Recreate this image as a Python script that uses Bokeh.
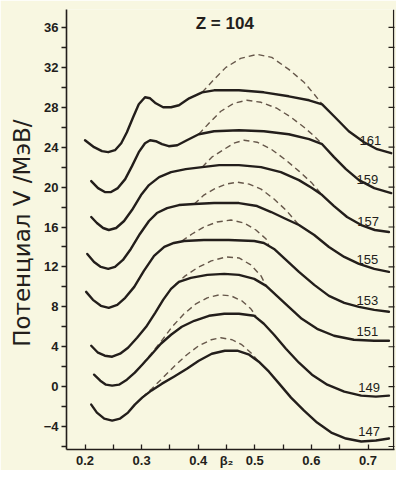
from bokeh.plotting import figure
from bokeh.models import Range1d, FixedTicker, Label, Span, CustomJSTickFormatter
from bokeh.embed import file_html
from bokeh.resources import INLINE

# ---- data (beta2, potential V in MeV) ----
title_text = "Z = 104"
y_title = "Потенциал V  /МэВ/"
x_title = "β₂"

x_ticks = [0.2, 0.3, 0.4, 0.5, 0.6, 0.7]
x_minor = [0.25, 0.35, 0.55, 0.65, 0.75]
x_title_at = 0.45
y_ticks = [-4, 0, 4, 8, 12, 16, 20, 24, 28, 32, 36]
y_minor = [-6, -2, 2, 6, 10, 14, 18, 22, 26, 30, 34]

labels = ["161", "159", "157", "155", "153", "151", "149", "147"]

s161_b = [0.200,0.216,0.230,0.241,0.253,0.264,0.274,0.285,0.295,0.306,0.315,0.325,0.338,0.352,0.366,0.384,0.407,0.428,0.472,0.516,0.560,0.596,0.619,0.640,0.666,0.693,0.716,0.741]
s161_v = [24.7,24.0,23.6,23.5,23.7,24.4,25.5,27.0,28.3,29.0,28.9,28.4,28.0,28.0,28.2,28.9,29.5,29.7,29.7,29.5,29.1,28.7,28.3,27.1,25.6,24.5,23.8,23.4]
d161_b = [0.407,0.428,0.449,0.475,0.504,0.530,0.560,0.587,0.605,0.619]
d161_v = [29.5,30.8,32.0,32.9,33.3,33.0,31.8,30.5,29.3,28.3]

s159_b = [0.211,0.223,0.235,0.246,0.258,0.271,0.283,0.295,0.306,0.315,0.325,0.336,0.348,0.363,0.380,0.401,0.428,0.472,0.516,0.560,0.596,0.619,0.640,0.661,0.684,0.711,0.741]
s159_v = [20.6,19.9,19.5,19.5,19.9,20.8,22.1,23.5,24.4,24.7,24.6,24.3,24.1,24.2,24.7,25.3,25.6,25.7,25.6,25.3,24.8,24.3,23.0,21.8,20.7,19.9,19.4]
d159_b = [0.401,0.419,0.440,0.463,0.486,0.511,0.539,0.564,0.587,0.605,0.619]
d159_v = [25.3,26.4,27.6,28.4,28.7,28.5,27.9,27.0,26.0,25.1,24.3]

s157_b = [0.211,0.221,0.232,0.242,0.255,0.269,0.283,0.299,0.313,0.331,0.352,0.378,0.407,0.437,0.472,0.511,0.546,0.578,0.601,0.619,0.640,0.663,0.688,0.712,0.737]
s157_v = [17.0,16.4,15.9,15.7,15.9,16.6,17.7,19.2,20.2,21.0,21.5,21.8,22.0,22.2,22.2,22.0,21.5,20.7,19.9,19.2,18.1,17.0,16.2,15.7,15.5]
d157_b = [0.407,0.424,0.446,0.463,0.481,0.504,0.529,0.555,0.578,0.601,0.619]
d157_v = [22.0,23.0,23.8,24.4,24.7,24.5,23.8,22.7,21.6,20.4,19.2]

s155_b = [0.204,0.216,0.228,0.241,0.253,0.267,0.281,0.297,0.313,0.327,0.345,0.366,0.393,0.428,0.472,0.504,0.529,0.555,0.578,0.605,0.631,0.658,0.684,0.711,0.737]
s155_v = [13.3,12.5,12.0,11.8,12.0,12.7,13.8,15.3,16.6,17.4,17.9,18.2,18.3,18.4,18.4,18.1,17.5,16.8,16.2,15.2,14.0,13.0,12.3,11.8,11.5]
d155_b = [0.393,0.410,0.428,0.449,0.469,0.490,0.511,0.534,0.555,0.578]
d155_v = [18.3,19.2,19.8,20.3,20.5,20.3,19.8,18.8,17.7,16.2]

s153_b = [0.202,0.214,0.228,0.242,0.257,0.271,0.287,0.304,0.322,0.340,0.357,0.375,0.410,0.454,0.499,0.516,0.534,0.557,0.578,0.605,0.631,0.658,0.684,0.711,0.737]
s153_v = [9.5,8.7,8.1,7.9,8.2,8.9,10.0,11.6,13.1,14.0,14.4,14.6,14.7,14.7,14.6,14.4,13.8,12.6,11.5,10.2,9.1,8.4,8.0,7.7,7.5]
d153_b = [0.371,0.389,0.410,0.433,0.458,0.481,0.502,0.520,0.525]
d153_v = [14.6,15.3,16.0,16.5,16.7,16.4,15.7,14.8,14.1]

s151_b = [0.211,0.223,0.235,0.248,0.262,0.276,0.292,0.308,0.324,0.338,0.352,0.366,0.387,0.416,0.446,0.472,0.499,0.520,0.539,0.560,0.583,0.610,0.640,0.675,0.711,0.737]
s151_v = [4.1,3.4,3.1,3.0,3.3,3.9,4.9,6.0,7.4,8.7,9.8,10.5,10.9,11.2,11.3,11.2,10.8,10.1,9.1,8.0,6.8,5.8,5.1,4.7,4.6,4.6]
d151_b = [0.359,0.377,0.398,0.423,0.449,0.472,0.493,0.511,0.520]
d151_v = [10.2,11.1,11.9,12.6,13.0,12.9,12.2,11.1,10.1]

s149_b = [0.216,0.227,0.237,0.248,0.260,0.274,0.288,0.301,0.317,0.334,0.352,0.371,0.393,0.419,0.446,0.472,0.499,0.516,0.534,0.555,0.578,0.601,0.628,0.658,0.688,0.714,0.737]
s149_v = [1.2,0.6,0.2,0.1,0.2,0.7,1.4,2.2,3.2,4.3,5.2,6.0,6.6,7.1,7.3,7.3,7.1,6.3,5.2,3.8,2.4,1.2,0.2,-0.5,-0.9,-1.0,-0.9]
d149_b = [0.301,0.317,0.334,0.354,0.375,0.396,0.416,0.437,0.458,0.477,0.493,0.502]
d149_v = [2.2,3.3,4.5,6.0,7.3,8.3,8.9,9.2,9.1,8.6,7.8,7.1]

s147_b = [0.211,0.221,0.234,0.248,0.262,0.276,0.288,0.301,0.317,0.336,0.357,0.380,0.401,0.424,0.447,0.469,0.490,0.507,0.525,0.543,0.564,0.587,0.610,0.635,0.661,0.688,0.714,0.737]
s147_v = [-1.8,-2.6,-3.2,-3.4,-3.2,-2.6,-1.8,-1.1,-0.4,0.3,1.0,1.8,2.6,3.3,3.6,3.6,3.2,2.5,1.5,0.3,-1.1,-2.4,-3.6,-4.6,-5.2,-5.5,-5.4,-5.2]
d147_b = [0.301,0.318,0.336,0.357,0.380,0.401,0.423,0.440,0.460,0.477,0.493,0.507]
d147_v = [-1.1,-0.2,0.8,2.0,3.2,4.1,4.7,4.9,4.7,4.2,3.4,2.5]

solid = [(s161_b, s161_v), (s159_b, s159_v), (s157_b, s157_v), (s155_b, s155_v),
         (s153_b, s153_v), (s151_b, s151_v), (s149_b, s149_v), (s147_b, s147_v)]
dashed = [(d161_b, d161_v), (d159_b, d159_v), (d157_b, d157_v), (d155_b, d155_v),
          (d153_b, d153_v), (d151_b, d151_v), (d149_b, d149_v), (d147_b, d147_v)]

# ---- styling ----
PAPER = "#f8f7e1"
INK = "#231e1b"
DASH = "#66574a"

X0, X1 = 0.1673, 0.7468
Y0, Y1 = -6.3, 37.8

p = figure(width=396, height=470,
           x_range=Range1d(X0, X1), y_range=Range1d(Y0, Y1),
           output_backend="svg", toolbar_location=None,
           min_border_left=66, min_border_right=2, min_border_top=9, min_border_bottom=18)
p.background_fill_color = PAPER
p.border_fill_color = PAPER
p.outline_line_color = None
p.grid.visible = False

xa = p.xaxis[0]
xa.ticker = FixedTicker(ticks=x_ticks + [x_title_at], minor_ticks=x_minor)
xa.formatter = CustomJSTickFormatter(
    args=dict(special=x_title_at, name=x_title),
    code="return Math.abs(tick - special) < 1e-9 ? name : tick.toFixed(1);")
xa.major_tick_in = 5
xa.major_tick_out = 0
xa.minor_tick_in = 5
xa.minor_tick_out = 0
xa.major_label_standoff = 3
xa.axis_line_width = 1.6
xa.axis_line_color = INK
xa.major_tick_line_color = INK
xa.minor_tick_line_color = INK
xa.major_tick_line_width = 1.3
xa.minor_tick_line_width = 1.3
xa.major_label_text_font = "Liberation Sans"
xa.major_label_text_font_size = "13px"
xa.major_label_text_font_style = "bold"
xa.major_label_text_color = INK

ya = p.yaxis[0]
ya.ticker = FixedTicker(ticks=y_ticks, minor_ticks=y_minor)
ya.major_tick_in = 0
ya.major_tick_out = 5
ya.minor_tick_in = 0
ya.minor_tick_out = 5
ya.major_label_standoff = 3
ya.axis_line_width = 1.6
ya.axis_line_color = INK
ya.major_tick_line_color = INK
ya.minor_tick_line_color = INK
ya.major_tick_line_width = 1.3
ya.minor_tick_line_width = 1.3
ya.major_label_text_font = "Liberation Sans"
ya.major_label_text_font_size = "13px"
ya.major_label_text_font_style = "bold"
ya.major_label_text_color = INK
ya.axis_label = y_title
ya.axis_label_standoff = 6
ya.axis_label_text_font = "DejaVu Sans"
ya.axis_label_text_font_size = "23px"
ya.axis_label_text_font_style = "normal"
ya.axis_label_text_color = INK

# right frame edge with inward ticks
right_edge = X1 - 0.0015
p.add_layout(Span(location=right_edge, dimension="height", line_color=INK, line_width=1.4))
all_y = y_ticks + y_minor
p.scatter([X1] * len(all_y), all_y, marker="dash", size=12, line_color=INK, line_width=1.2)

for (b, v) in dashed:
    p.line(b, v, line_color=DASH, line_width=1.4, line_dash="6 4")
for (b, v) in solid:
    p.line(b, v, line_color=INK, line_width=2.4, line_join="round", line_cap="round")

for name, (b, v) in zip(labels, solid):
    p.add_layout(Label(x=b[-2] - 0.012, y=v[-2] + 0.9, text=name,
                       text_align="center", text_baseline="middle",
                       text_font="Liberation Sans", text_font_size="13px",
                       text_color=INK))

p.add_layout(Label(x=0.447, y=36.4, text=title_text, text_align="center",
                   text_baseline="middle", text_font="Liberation Sans",
                   text_font_size="17px", text_font_style="bold", text_color=INK))

open("out.html", "w").write(file_html(p, INLINE))
